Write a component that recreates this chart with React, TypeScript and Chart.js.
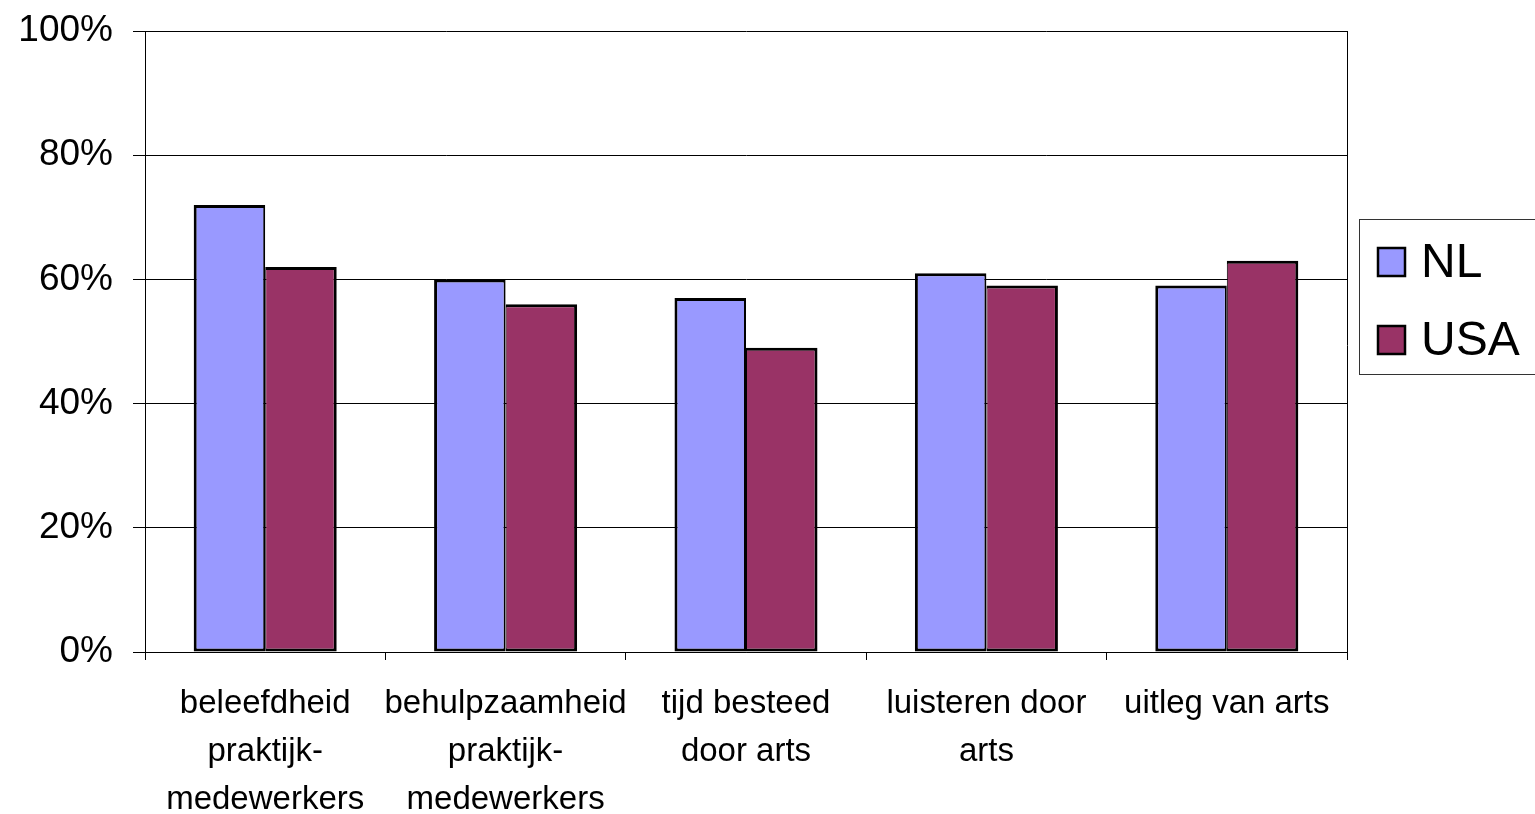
import React, { useEffect, useRef } from "react";
import { Chart, registerables } from "chart.js";

Chart.register(...registerables);

const categories: string[][] = [
  ["beleefdheid", "praktijk-", "medewerkers"],
  ["behulpzaamheid", "praktijk-", "medewerkers"],
  ["tijd besteed", "door arts"],
  ["luisteren door", "arts"],
  ["uitleg van arts"],
];
const seriesNames = ["NL", "USA"];
const nlValues = [72, 60, 57, 61, 59];
const usaValues = [62, 56, 49, 59, 63];
const yTicks = [0, 20, 40, 60, 80, 100];
const colors = ["#9999FF", "#993366"];

const FONT = "'Liberation Sans', Arial, Helvetica, sans-serif";

const framePlugin = {
  id: "frameAndLegend",
  afterDraw(chart: any) {
    const { ctx, chartArea } = chart;
    ctx.save();
    ctx.strokeStyle = "#000";
    ctx.lineWidth = 1;
    ctx.beginPath();
    ctx.moveTo(Math.round(chartArea.right) + 0.5, chartArea.top);
    ctx.lineTo(Math.round(chartArea.right) + 0.5, chartArea.bottom + 8);
    ctx.stroke();

    ctx.strokeStyle = "#333";
    ctx.lineWidth = 1;
    ctx.strokeRect(1359.5, 219.5, 200, 155);
    const ds = chart.data.datasets;
    const rowsY = [262, 340];
    ds.forEach((d: any, i: number) => {
      const y = rowsY[i];
      ctx.fillStyle = d.backgroundColor;
      ctx.fillRect(1378, y - 14, 27, 28);
      ctx.strokeStyle = "#000";
      ctx.lineWidth = 2.5;
      ctx.strokeRect(1378, y - 14, 27, 28);
      ctx.fillStyle = "#000";
      ctx.font = `48px ${FONT}`;
      ctx.textBaseline = "middle";
      ctx.textAlign = "left";
      ctx.fillText(d.label, 1421, y + 2);
    });
    ctx.restore();
  },
};

export default function App() {
  const ref = useRef<HTMLCanvasElement>(null);
  useEffect(() => {
    if (!ref.current) return;
    const chart = new Chart(ref.current, {
      type: "bar",
      data: {
        labels: categories,
        datasets: [
          {
            label: seriesNames[0],
            data: nlValues,
            backgroundColor: colors[0],
            borderColor: "#000",
            borderWidth: { left: 3, top: 3, bottom: 3, right: 2 },
            borderSkipped: false,
            barPercentage: 1,
            categoryPercentage: 0.595,
          },
          {
            label: seriesNames[1],
            data: usaValues,
            backgroundColor: colors[1],
            borderColor: "#000",
            borderWidth: { left: 1, top: 3, bottom: 3, right: 3 },
            borderSkipped: false,
            barPercentage: 1,
            categoryPercentage: 0.595,
          },
        ],
      },
      options: {
        responsive: false,
        animation: false,
        layout: { padding: { top: 31, right: 188, left: 0, bottom: 0 } },
        plugins: {
          legend: { display: false },
          tooltip: { enabled: false },
        },
        scales: {
          x: {
            afterFit: (s: any) => {
              s.height = 162;
              s.paddingLeft = 0;
              s.paddingRight = 0;
            },
            grid: {
              offset: true,
              drawOnChartArea: false,
              drawTicks: true,
              tickLength: 8,
              color: "#000",
              lineWidth: 1,
            },
            border: { display: true, color: "#000", width: 1 },
            ticks: {
              autoSkip: false,
              maxRotation: 0,
              minRotation: 0,
              padding: 20,
              color: "#000",
              font: { family: FONT, size: 33, lineHeight: 1.45 },
            },
          },
          y: {
            min: 0,
            max: 100,
            afterFit: (s: any) => {
              s.width = 145;
              s.paddingTop = 0;
              s.paddingBottom = 0;
            },
            afterBuildTicks: (s: any) => {
              s.ticks = yTicks.map((v) => ({ value: v }));
            },
            grid: {
              color: "#000",
              lineWidth: 1,
              drawTicks: true,
              tickLength: 12,
            },
            border: { display: true, color: "#000", width: 1 },
            ticks: {
              padding: 20,
              color: "#000",
              font: { family: FONT, size: 37 },
              callback: (v: any) => `${v}%`,
            },
          },
        },
      },
      plugins: [framePlugin],
    });
    return () => chart.destroy();
  }, []);
  return (
    <div style={{ position: "absolute", left: 0, top: 0, width: 1535, height: 814, background: "#fff" }}>
      <canvas ref={ref} width={1535} height={814} style={{ display: "block" }} />
    </div>
  );
}
